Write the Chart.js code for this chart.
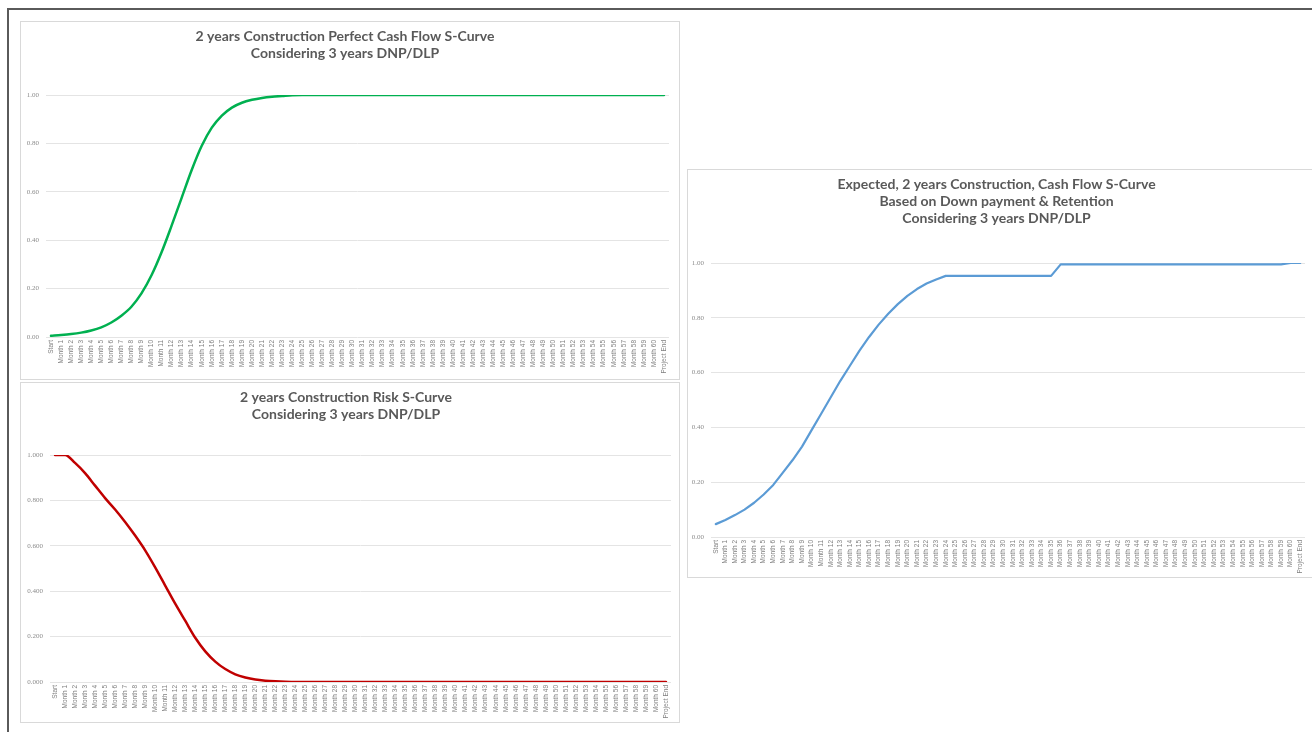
<!DOCTYPE html>
<html>
<head>
<meta charset="utf-8">
<script src="https://cdn.jsdelivr.net/npm/chart.js@4/dist/chart.umd.min.js"></script>
<style>
  html, body {
    margin: 0;
    padding: 0;
    background: #fff;
    width: 1312px;
    height: 732px;
    overflow: hidden;
  }
  .frame {
    position: absolute;
    left: 7px;
    top: 8px;
    width: 1320px;
    height: 740px;
    border-top: 2px solid #5a5a5a;
    border-left: 2px solid #5a5a5a;
  }
  .box {
    position: absolute;
    border: 1px solid #d9d9d9;
    background: #fff;
  }
  .box canvas {
    display: block;
  }
  #perfect { left: 20px; top: 21px; }
  #risk { left: 20px; top: 382px; }
  #expected { left: 687px; top: 169px; }
</style>
</head>
<body>
<div class="frame"></div>
<div class="box" id="perfect"><canvas id="perfectCanvas" width="658" height="357"></canvas></div>
<div class="box" id="risk"><canvas id="riskCanvas" width="658" height="339"></canvas></div>
<div class="box" id="expected"><canvas id="expectedCanvas" width="630" height="407"></canvas></div>
<script>
// Start, Month 1 .. Month 60, Project End
const periods = ["Start"];
for (let m = 1; m <= 60; m++) periods.push(`Month ${m}`);
periods.push("Project End");

const perfectTitle = ["2 years Construction Perfect Cash Flow S-Curve", "Considering 3 years DNP/DLP"];
const riskTitle = ["2 years Construction Risk S-Curve", "Considering 3 years DNP/DLP"];
const expectedTitle = [
  "Expected, 2 years Construction, Cash Flow S-Curve",
  "Based on Down payment & Retention",
  "Considering 3 years DNP/DLP",
];

// cumulative cash flow, ideal case
const perfectValues = [
  0.005, 0.008, 0.012, 0.018, 0.027, 0.040, 0.060, 0.088, 0.125, 0.180,
  0.255, 0.350, 0.460, 0.575, 0.690, 0.790, 0.865, 0.915, 0.948, 0.968,
  0.980, 0.988, 0.993, 0.996, 0.999, 1, 1, 1, 1, 1,
  1, 1, 1, 1, 1, 1, 1, 1, 1, 1,
  1, 1, 1, 1, 1, 1, 1, 1, 1, 1,
  1, 1, 1, 1, 1, 1, 1, 1, 1, 1,
  1, 1,
];

// remaining risk
const riskValues = [
  1.000, 1.000, 0.965, 0.920, 0.865, 0.810, 0.760, 0.705, 0.645, 0.580,
  0.505, 0.425, 0.345, 0.270, 0.195, 0.135, 0.090, 0.057, 0.034, 0.020,
  0.011, 0.006, 0.003, 0.001, 0, 0, 0, 0, 0, 0,
  0, 0, 0, 0, 0, 0, 0, 0, 0, 0,
  0, 0, 0, 0, 0, 0, 0, 0, 0, 0,
  0, 0, 0, 0, 0, 0, 0, 0, 0, 0,
  0, 0,
];

// cumulative cash flow with down payment and retention release
const expectedValues = [
  0.047, 0.062, 0.080, 0.100, 0.125, 0.155, 0.190, 0.235, 0.280, 0.330,
  0.390, 0.450, 0.510, 0.570, 0.625, 0.680, 0.730, 0.775, 0.815, 0.850,
  0.880, 0.905, 0.925, 0.940, 0.953, 0.953, 0.953, 0.953, 0.953, 0.953,
  0.953, 0.953, 0.953, 0.953, 0.953, 0.953, 0.995, 0.995, 0.995, 0.995,
  0.995, 0.995, 0.995, 0.995, 0.995, 0.995, 0.995, 0.995, 0.995, 0.995,
  0.995, 0.995, 0.995, 0.995, 0.995, 0.995, 0.995, 0.995, 0.995, 0.995,
  1.000, 1.000,
];

const makeChartConfig = ({
  title,
  values,
  color,
  lineWidth = 2.5,
  smooth = true,
  decimals = 2,
  yWidth,
  xHeight,
  titleBottom,
  padRight,
}) => ({
  type: "line",
  data: {
    labels: periods,
    datasets: [
      {
        data: values,
        borderColor: color,
        backgroundColor: color,
        borderWidth: lineWidth,
        pointRadius: 0,
        cubicInterpolationMode: smooth ? "monotone" : "default",
        tension: 0,
        borderCapStyle: "round",
        borderJoinStyle: "round",
      },
    ],
  },
  options: {
    responsive: false,
    animation: false,
    layout: {
      padding: { left: 0, right: padRight, top: 0, bottom: 0 },
    },
    plugins: {
      legend: { display: false },
      tooltip: { enabled: false },
      title: {
        display: true,
        text: title,
        color: "#595959",
        font: { family: "Lato, 'Open Sans', sans-serif", size: 14, weight: "bold", lineHeight: 1.2 },
        padding: { top: 6.1, bottom: titleBottom },
      },
    },
    scales: {
      x: {
        offset: true,
        grid: { display: false, drawTicks: false },
        border: { display: false },
        ticks: {
          autoSkip: false,
          minRotation: 90,
          maxRotation: 90,
          padding: 3,
          color: "#7f7f7f",
          font: { family: "'Liberation Sans', sans-serif", size: 6.5 },
        },
        afterFit: (scale) => {
          scale.height = xHeight;
        },
      },
      y: {
        min: 0,
        max: 1,
        ticks: {
          stepSize: 0.2,
          padding: 7,
          color: "#8c8c8c",
          font: { family: "'Liberation Serif', serif", size: 7 },
          callback: (v) => Number(v).toFixed(decimals),
        },
        grid: { color: "#e4e4e4", lineWidth: 1, drawTicks: false },
        border: { display: false },
        afterFit: (scale) => {
          scale.width = yWidth;
        },
      },
    },
  },
});

new Chart(
  document.getElementById("perfectCanvas").getContext("2d"),
  makeChartConfig({
    title: perfectTitle,
    values: perfectValues,
    color: "#00b050",
    yWidth: 25,
    xHeight: 42,
    titleBottom: 33.3,
    padRight: 10,
  })
);

new Chart(
  document.getElementById("riskCanvas").getContext("2d"),
  makeChartConfig({
    title: riskTitle,
    values: riskValues,
    color: "#c00000",
    decimals: 3,
    yWidth: 29,
    xHeight: 40,
    titleBottom: 32.3,
    padRight: 8,
  })
);

new Chart(
  document.getElementById("expectedCanvas").getContext("2d"),
  makeChartConfig({
    title: expectedTitle,
    values: expectedValues,
    color: "#5b9bd5",
    lineWidth: 2.2,
    smooth: false,
    yWidth: 23,
    xHeight: 40,
    titleBottom: 36.5,
    padRight: 13,
  })
);
</script>
</body>
</html>
